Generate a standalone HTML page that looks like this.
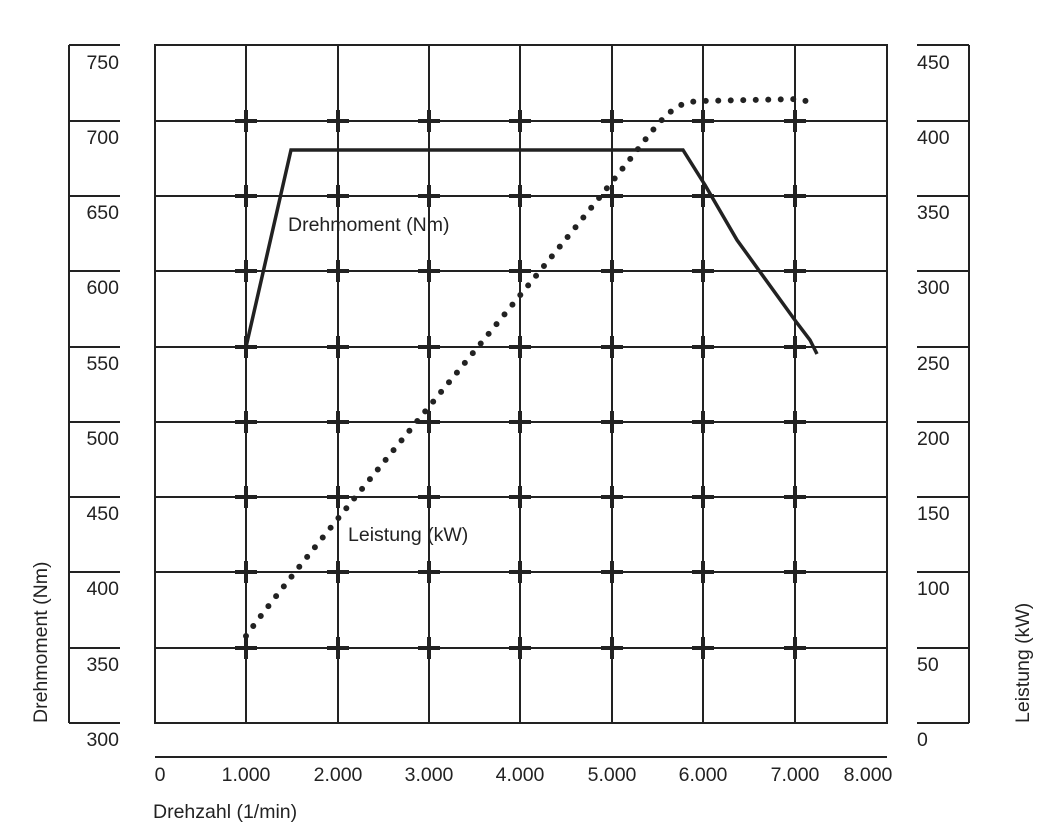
<!DOCTYPE html>
<html><head><meta charset="utf-8"><style>
body{margin:0;background:#fff}
svg{display:block}
text{font-family:"Liberation Sans",Arial,sans-serif;font-size:19.5px;fill:#222}
</style></head><body>
<svg width="1054" height="839" viewBox="0 0 1054 839">
<g stroke="#222" stroke-width="2" fill="none">
<rect x="155" y="45" width="732" height="678"/>
<path d="M69,45V723 M69,45H120 M69,723H120 M969,45V723 M917,45H969 M917,723H969 M155,757H887"/>
<path d="M155,121H887 M155,196H887 M155,271H887 M155,347H887 M155,422H887 M155,497H887 M155,572H887 M155,648H887"/>
<path d="M69,121H120 M69,196H120 M69,271H120 M69,347H120 M69,422H120 M69,497H120 M69,572H120 M69,648H120"/>
<path d="M917,121H969 M917,196H969 M917,271H969 M917,347H969 M917,422H969 M917,497H969 M917,572H969 M917,648H969"/>
<path d="M246,45V723 M338,45V723 M429,45V723 M520,45V723 M612,45V723 M703,45V723 M795,45V723"/>
</g>
<g id="crosses" stroke="#222" stroke-width="4"></g>
<polyline points="246,347 291,150 683,150 705,185 737,240 797,323 810,340 817,354" fill="none" stroke="#222" stroke-width="3.5"/>
<path d="M246,636 C300,560 560,250 645,140 C670,108 680,102 700,101 L800,99 L812,103" fill="none" stroke="#222" stroke-width="6" stroke-linecap="round" stroke-dasharray="0 12.5"/>
<text x="288" y="231">Drehmoment (Nm)</text>
<text x="348" y="541">Leistung (kW)</text>
<g text-anchor="end">
<text x="119" y="69">750</text><text x="119" y="144">700</text><text x="119" y="219">650</text><text x="119" y="294">600</text><text x="119" y="370">550</text><text x="119" y="445">500</text><text x="119" y="520">450</text><text x="119" y="595">400</text><text x="119" y="671">350</text><text x="119" y="746">300</text>
</g>
<g>
<text x="917" y="69">450</text><text x="917" y="144">400</text><text x="917" y="219">350</text><text x="917" y="294">300</text><text x="917" y="370">250</text><text x="917" y="445">200</text><text x="917" y="520">150</text><text x="917" y="595">100</text><text x="917" y="671">50</text><text x="917" y="746">0</text>
</g>
<g text-anchor="middle">
<text x="160" y="781">0</text><text x="246" y="781">1.000</text><text x="338" y="781">2.000</text><text x="429" y="781">3.000</text><text x="520" y="781">4.000</text><text x="612" y="781">5.000</text><text x="703" y="781">6.000</text><text x="795" y="781">7.000</text><text x="868" y="781">8.000</text>
</g>
<text x="153" y="818">Drehzahl (1/min)</text>
<text transform="translate(47,723) rotate(-90)">Drehmoment (Nm)</text>
<text transform="translate(1029,723) rotate(-90)">Leistung (kW)</text>
</svg>
<script>
var g=document.getElementById('crosses'),xs=[246,338,429,520,612,703,795],ys=[121,196,271,347,422,497,572,648],d='';
xs.forEach(function(x){ys.forEach(function(y){d+='M'+(x-11)+','+y+'H'+(x+11)+'M'+x+','+(y-11)+'V'+(y+11);});});
var p=document.createElementNS('http://www.w3.org/2000/svg','path');p.setAttribute('d',d);g.appendChild(p);
</script>
</body></html>
